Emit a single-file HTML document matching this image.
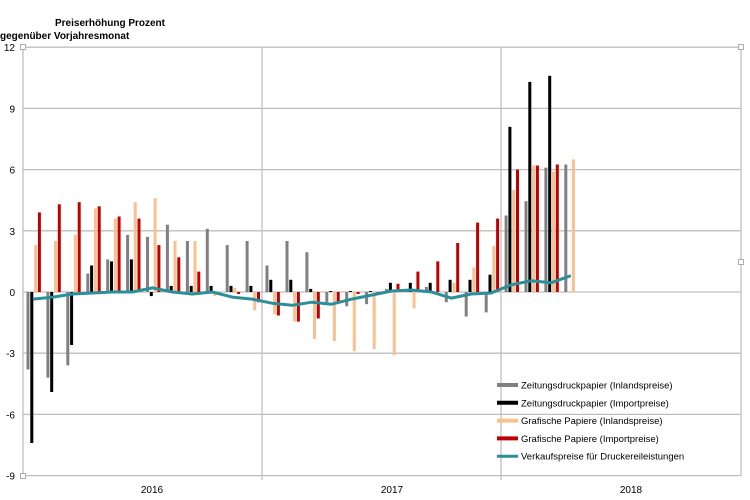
<!DOCTYPE html>
<html><head><meta charset="utf-8"><style>
html,body{margin:0;padding:0;background:#fff;}
svg{display:block;font-family:"Liberation Sans",sans-serif;}
</style></head><body>
<svg id="c" width="750" height="500" xmlns="http://www.w3.org/2000/svg"></svg>
<script>
var s=document.getElementById('c'),h='';
function Y(v){return 292-v*20.4;}
// grid
for(var v=-9;v<=12;v+=3){var y=Y(v);h+='<line x1="23" x2="741" y1="'+y+'" y2="'+y+'" stroke="#bfbfbf" stroke-width="1.3"/>';
h+='<text x="15" y="'+(y+4)+'" font-size="10" text-anchor="end" fill="#000">'+v+'</text>';}
[23,262,501,741].forEach(function(x){h+='<line x1="'+x+'" x2="'+x+'" y1="47" y2="'+(x==262||x==501?480:476)+'" stroke="#bfbfbf" stroke-width="1.3"/>';});
var g=[-3.8,-4.2,-3.6,0.9,1.6,2.8,2.7,3.3,2.5,3.1,2.3,2.5,1.3,2.5,1.95,-0.5,-0.7,-0.6,0.15,0.1,0.25,-0.5,-1.2,-1.0,3.75,4.45,6.1,6.25];
var b=[-7.4,-4.9,-2.6,1.3,1.5,1.6,-0.2,0.3,0.3,0.3,0.3,0.3,0.6,0.6,0.15,0.05,0.05,0.05,0.45,0.45,0.45,0.6,0.6,0.85,8.1,10.3,10.6,null];
var o=[2.3,2.5,2.8,4.1,3.6,4.4,4.6,2.5,2.5,-0.2,0.2,-0.9,-1.1,-1.45,-2.3,-2.4,-2.9,-2.8,-3.1,-0.8,0,0.45,1.2,2.25,5.0,6.2,5.9,6.5];
var r=[3.9,4.3,4.4,4.2,3.7,3.6,2.3,1.7,1.0,0,-0.1,-0.5,-1.15,-1.45,-1.3,-0.5,-0.1,-0.05,0.4,1.0,1.5,2.4,3.4,3.6,6.0,6.2,6.25,null];
var L=[-0.35,-0.25,-0.1,-0.05,0,0,0.2,0,-0.1,0,-0.25,-0.35,-0.55,-0.65,-0.5,-0.6,-0.35,-0.15,0.05,0.1,0,-0.3,-0.1,-0.05,0.35,0.55,0.45,0.8];
var cols=['#808080','#000000','#fac090','#c00000'],ser=[g,b,o,r];
for(var i=0;i<28;i++){var st=23+i*19.92;
for(var k=0;k<4;k++){var v=ser[k][i];if(v==null||v==0)continue;var x=st+3.5+k*3.8;var y0=Y(Math.max(v,0)),hh=Math.abs(v)*20.4;
h+='<rect x="'+x.toFixed(1)+'" y="'+y0.toFixed(1)+'" width="3" height="'+hh.toFixed(1)+'" fill="'+cols[k]+'"/>';}}
var p=L.map(function(v,i){return (23+i*19.92+10).toFixed(1)+','+Y(v).toFixed(1);}).join(' ');
h+='<polyline points="'+p+'" fill="none" stroke="#2a8f99" stroke-width="3" stroke-linejoin="round"/>';
// handles
[[23,47],[23,476],[741,47],[741,262]].forEach(function(q){h+='<rect x="'+(q[0]-2.5)+'" y="'+(q[1]-2.5)+'" width="5" height="5" fill="#fff" stroke="#999" stroke-width="0.8"/>';});
h+='<text x="110" y="26" font-size="10" font-weight="bold" text-anchor="middle">Preiserhöhung Prozent</text>';
h+='<text x="0" y="39" font-size="10" font-weight="bold">gegenüber  Vorjahresmonat</text>';
[['2016',152],['2017',392],['2018',631]].forEach(function(t){h+='<text x="'+t[1]+'" y="493" font-size="10" text-anchor="middle">'+t[0]+'</text>';});
var lg=[['Zeitungsdruckpapier (Inlandspreise)','#808080'],['Zeitungsdruckpapier (Importpreise)','#000000'],['Grafische Papiere (Inlandspreise)','#fac090'],['Grafische Papiere (Importpreise)','#c00000'],['Verkaufspreise für Druckereileistungen','#2a8f99']];
lg.forEach(function(l,i){var y=385+i*17.8;h+='<line x1="497" x2="518" y1="'+y+'" y2="'+y+'" stroke="'+l[1]+'" stroke-width="'+(i==4?3:4)+'"/>';
h+='<text x="521" y="'+(y+3.5)+'" font-size="9.5">'+l[0]+'</text>';});
s.innerHTML=h;
</script>
</body></html>
